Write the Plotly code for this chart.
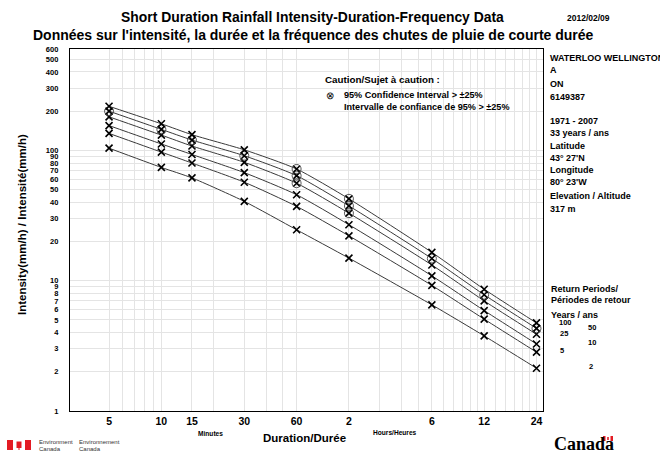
import plotly.graph_objects as go

# ---------------- data ----------------
durations_min = [5, 10, 15, 30, 60, 120, 360, 720, 1440]
xtick_vals = [5, 10, 15, 30, 60, 120, 360, 720, 1440]
xtick_text = ["5", "10", "15", "30", "60", "2", "6", "12", "24"]
x_grid_min = [5, 6, 7, 8, 9, 10, 15, 20, 30, 40, 50, 60]
x_grid_hours = [2, 3, 4, 5, 6, 7, 8, 9, 10, 11, 12, 14, 16, 18, 20, 22, 24]
ytick_vals = [1, 2, 3, 4, 5, 6, 7, 8, 9, 10, 20, 30, 40, 50, 60, 70, 80, 90,
              100, 200, 300, 400, 500, 600]

i_2yr = [104, 74, 61.5, 40.6, 24.6, 14.9, 6.53, 3.77, 2.13]
i_5yr = [135, 97, 80, 57, 37.2, 22.1, 9.2, 5.07, 2.83]
i_10yr = [155, 112, 93, 67.5, 45.7, 26.9, 10.9, 5.9, 3.27]
i_25yr = [181, 131, 108, 81, 56, 33, 13.2, 7.0, 3.88]
i_50yr = [200, 145, 120, 91, 64, 37.5, 14.8, 7.8, 4.31]
i_100yr = [218, 160, 132, 101, 72, 42.5, 16.5, 8.6, 4.74]

# caution flags (95% CI > +/-25%)
c_2yr = [0, 0, 0, 0, 0, 0, 0, 0, 0]
c_5yr = [0, 0, 0, 0, 0, 0, 0, 0, 0]
c_10yr = [0, 0, 0, 0, 0, 0, 0, 0, 0]
c_25yr = [0, 0, 0, 0, 1, 1, 0, 0, 0]
c_50yr = [1, 1, 1, 1, 1, 1, 1, 1, 1]
c_100yr = [0, 0, 0, 0, 1, 1, 0, 0, 0]

series = [("2", i_2yr, c_2yr), ("5", i_5yr, c_5yr), ("10", i_10yr, c_10yr),
          ("25", i_25yr, c_25yr), ("50", i_50yr, c_50yr), ("100", i_100yr, c_100yr)]

# ---------------- figure ----------------
W, H = 660, 453
L, R, T, B = 70, 117, 49, 42
FONT = "Liberation Sans, Arial, sans-serif"


def px(x):
    return (x - L) / (W - L - R)


def py(y):
    return (H - B - y) / (H - T - B)


fig = go.Figure()
for name, vals, caut in series:
    fig.add_trace(go.Scatter(x=durations_min, y=vals, mode="lines",
                             line=dict(color="#3a3a3a", width=1, shape="spline", smoothing=0.6),
                             hoverinfo="skip", showlegend=False))
    fig.add_trace(go.Scatter(x=durations_min, y=vals, mode="markers", name=name + " yr",
                             marker=dict(symbol="x-thin-open", size=7, color="black",
                                         line=dict(color="black", width=1.6)),
                             showlegend=False))
    cx = [d for d, c in zip(durations_min, caut) if c]
    cy = [v for v, c in zip(vals, caut) if c]
    fig.add_trace(go.Scatter(x=cx, y=cy, mode="markers",
                             marker=dict(symbol="circle-open", size=9, color="#444444",
                                         line=dict(color="#444444", width=0.9)),
                             hoverinfo="skip", showlegend=False))

x_grid = x_grid_min + [h * 60 for h in x_grid_hours]
x_all = sorted(set(x_grid + xtick_vals))
x_text = [xtick_text[xtick_vals.index(v)] if v in xtick_vals else "" for v in x_all]

fig.update_xaxes(type="log", range=[0.4743, 3.1958], tickvals=x_all, ticktext=x_text,
                 showgrid=True, gridcolor="#e4e4e4", gridwidth=1,
                 showline=True, mirror=True, linecolor="black", linewidth=1.3,
                 ticks="", tickfont=dict(family=FONT, size=10.5, color="black", weight="bold"),
                 zeroline=False)
fig.update_yaxes(type="log", range=[0, 2.77815], tickvals=ytick_vals,
                 ticktext=[str(v) for v in ytick_vals],
                 showgrid=True, gridcolor="#e4e4e4", gridwidth=1,
                 showline=True, mirror=True, linecolor="black", linewidth=1.3,
                 ticks="", ticklabelstandoff=9,
                 tickfont=dict(family=FONT, size=7.5, color="black", weight="bold"),
                 zeroline=False)

ann = []


def text(x, y, s, size, xanchor="left", bold=True, family=FONT, color="black", **kw):
    ann.append(dict(x=px(x), y=py(y), xref="paper", yref="paper", text=s, showarrow=False,
                    xanchor=xanchor, yanchor="middle",
                    font=dict(family=family, size=size, color=color,
                              weight="bold" if bold else "normal"), **kw))


# titles
text(312, 17, "Short Duration Rainfall Intensity-Duration-Frequency Data", 13.9, "center")
text(588, 18, "2012/02/09", 8.5, "center")
text(313, 35, "Données sur l'intensité, la durée et la fréquence des chutes de pluie de courte durée",
     14, "center")

# station info
info = [("WATERLOO WELLINGTON", 58), ("A", 70), ("ON", 84), ("6149387", 97),
        ("1971 - 2007", 121), ("33 years / ans", 133), ("Latitude", 146),
        ("43° 27'N", 158), ("Longitude", 170), ("80° 23'W", 182),
        ("Elevation / Altitude", 196), ("317 m", 209)]
for s, y in info:
    text(548, y, s, 9)

# return period legend
text(549, 289, "Return Periods/", 9)
text(549, 300, "Périodes de retour", 9)
text(549, 315, "Years / ans", 9)
rp_labels = [("100", 557, 322), ("50", 586, 327), ("25", 558, 333), ("10", 586, 342),
             ("5", 558, 350), ("2", 587, 366)]
for s, x, y in rp_labels:
    text(x, y, s, 7.5)

# caution legend
text(323, 80, "Caution/Sujet à caution :", 9.8)
text(330, 96, "⊗", 10, "center", bold=False)
text(342, 95, "95% Confidence Interval > ±25%", 9.1)
text(342, 107, "Intervalle de confiance de 95% > ±25%", 9.1)

# axis titles
ann.append(dict(x=px(22), y=py(225), xref="paper", yref="paper",
                text="Intensity(mm/h) / Intensité(mm/h)", showarrow=False, textangle=-90,
                xanchor="center", yanchor="middle",
                font=dict(family=FONT, size=11.5, color="black", weight="bold")))
text(304, 438, "Duration/Durée", 11.5, "center")
text(210, 433, "Minutes", 6.6, "center")
text(395, 432, "Hours/Heures", 6.6, "center")

# footer
text(37, 442, "Environment", 6, bold=False, color="#333")
text(37, 449, "Canada", 6, bold=False, color="#333")
text(77, 442, "Environnement", 6, bold=False, color="#333")
text(77, 449, "Canada", 6, bold=False, color="#333")
text(584, 444, "Canada", 18, "center", family="Liberation Serif, Times New Roman, serif")

shapes = []


def rect(x0, y0, x1, y1, color):
    shapes.append(dict(type="rect", xref="paper", yref="paper", x0=px(x0), x1=px(x1),
                       y0=py(y1), y1=py(y0), fillcolor=color, line=dict(width=0)))


# FIP flag
rect(7, 440, 13, 450, "#e31b23")
rect(25, 440, 31, 450, "#e31b23")
rect(16.5, 441.5, 21.5, 448, "#e31b23")
rect(18.5, 447, 19.5, 450, "#e31b23")
# wordmark flag
rect(603, 436, 605.5, 441, "#e31b23")
rect(610.5, 436, 613, 441, "#e31b23")
rect(607.2, 437, 608.8, 440, "#e31b23")

fig.update_layout(width=W, height=H, margin=dict(l=L, r=R, t=T, b=B),
                  paper_bgcolor="white", plot_bgcolor="white",
                  annotations=ann, shapes=shapes, showlegend=False)

fig.write_html("out.html")
